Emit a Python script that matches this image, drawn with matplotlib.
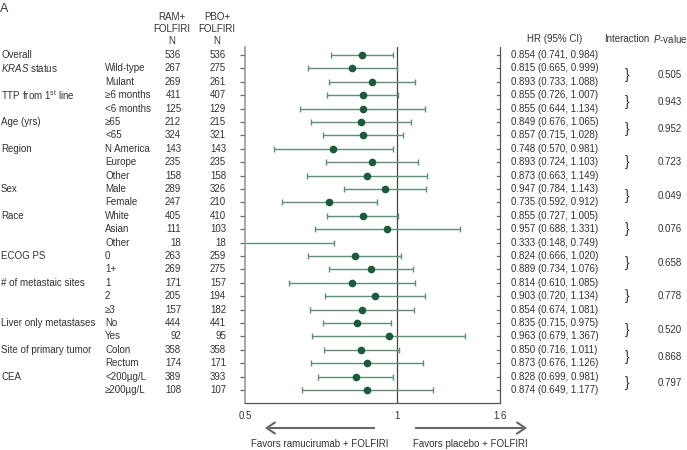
import matplotlib
matplotlib.use("Agg")
import matplotlib.pyplot as plt
import matplotlib.transforms as mtransforms
import numpy as np

plt.rcParams['font.family'] = ['Liberation Sans', 'DejaVu Sans']
plt.rcParams['mathtext.fontset'] = 'custom'
plt.rcParams['mathtext.rm'] = 'Liberation Sans'
plt.rcParams['mathtext.it'] = 'Liberation Sans:italic'

categories = ["Overall", r"$\it{KRAS}$ status", "", r"TTP from 1$^{\rm st}$ line", "",
              "Age (yrs)", "", "Region", "", "", "Sex", "", "Race", "", "",
              "ECOG PS", "", "# of metastaic sites", "", "", "Liver only metastases", "",
              "Site of primary tumor", "", "CEA", ""]
subgroups = ["", "Wild-type", "Mulant", "≥6 months", "<6 months", "≥65", "<65",
             "N America", "Europe", "Other", "Male", "Female", "White", "Asian", "Other",
             "0", "1+", "1", "2", "≥3", "No", "Yes", "Colon", "Rectum", "<200µg/L", "≥200µg/L"]
n_ram = [536, 267, 269, 411, 125, 212, 324, 143, 235, 158, 289, 247, 405, 111, 18,
         263, 269, 171, 205, 157, 444, 92, 358, 174, 389, 108]
n_pbo = [536, 275, 261, 407, 129, 215, 321, 143, 235, 158, 326, 210, 410, 103, 18,
         259, 275, 157, 194, 182, 441, 95, 358, 171, 393, 107]
hr = [0.854, 0.815, 0.893, 0.855, 0.855, 0.849, 0.857, 0.748, 0.893, 0.873, 0.947, 0.735,
      0.855, 0.957, 0.333, 0.824, 0.889, 0.814, 0.903, 0.854, 0.835, 0.963, 0.850, 0.873,
      0.828, 0.874]
lo = [0.741, 0.665, 0.733, 0.726, 0.644, 0.676, 0.715, 0.570, 0.724, 0.663, 0.784, 0.592,
      0.727, 0.688, 0.148, 0.666, 0.734, 0.610, 0.720, 0.674, 0.715, 0.679, 0.716, 0.676,
      0.699, 0.649]
hi = [0.984, 0.999, 1.088, 1.007, 1.134, 1.065, 1.028, 0.981, 1.103, 1.149, 1.143, 0.912,
      1.005, 1.331, 0.749, 1.020, 1.076, 1.085, 1.134, 1.081, 0.975, 1.367, 1.011, 1.126,
      0.981, 1.177]
# interaction p-values: (row position, value)
p_rows = [1.5, 3.5, 5.5, 8, 10.5, 13, 15.5, 18, 20.5, 22.5, 24.5]
p_vals = ["0.505", "0.943", "0.952", "0.723", "0.049", "0.076", "0.658", "0.778",
          "0.520", "0.868", "0.797"]
xticks = [0.5, 1, 1.6]
xticklabels = ["0.5", "1", "1.6"]

W, H = 687, 450
fig = plt.figure(figsize=(W / 100, H / 100), dpi=100)
ax = fig.add_axes([245 / W, 1 - 403 / H, 255 / W, 356 / H])

rows = np.arange(len(hr))
hr_a, lo_a, hi_a = np.array(hr), np.array(lo), np.array(hi)
ax.errorbar(hr_a, rows, xerr=[hr_a - lo_a, hi_a - hr_a], fmt='o', color='#1d5a3a',
            ecolor='#5e8e75', elinewidth=1.0, capsize=2.5, capthick=1.0, markersize=4.5)
ax.axvline(1, color='#444444', lw=0.9, zorder=0)

ax.set_xscale('log')
ax.set_xlim(0.5, 1.6)
ax.set_ylim(25.97, -0.6)
ax.set_xticks(xticks)
ax.set_xticklabels(xticklabels)
ax.minorticks_off()
ax.tick_params(axis='x', length=0, pad=6, labelsize=7, labelcolor='#333333')
ax.set_yticks(rows)
ax.set_yticklabels([])
ax.tick_params(axis='y', length=3.5, width=0.9, color='#666666', direction='out')
ax.spines['top'].set_visible(False)
for s in ['left', 'right', 'bottom']:
    ax.spines[s].set_color('#555555')
    ax.spines[s].set_linewidth(0.9)
ax.spines['left'].set_color('#999999')
ax.spines['left'].set_linewidth(1.2)
for y in rows:
    ax.plot([1.6 / 1.012, 1.6], [y, y], color='#666666', lw=0.9, clip_on=False)

trans = mtransforms.blended_transform_factory(fig.transFigure, ax.transData)
fs = 7
tc = '#333333'
for i in rows:
    if categories[i]:
        fig.text(1 / W, i, categories[i], transform=trans, va='center', ha='left', fontsize=fs, color=tc)
    if subgroups[i]:
        fig.text(105 / W, i, subgroups[i], transform=trans, va='center', ha='left', fontsize=fs, color=tc)
    fig.text(181 / W, i, str(n_ram[i]), transform=trans, va='center', ha='right', fontsize=fs, color=tc)
    fig.text(226 / W, i, str(n_pbo[i]), transform=trans, va='center', ha='right', fontsize=fs, color=tc)
    fig.text(511 / W, i, f"{hr[i]:.3f} ({lo[i]:.3f}, {hi[i]:.3f})", transform=trans,
             va='center', ha='left', fontsize=fs, color=tc)
for r, p in zip(p_rows, p_vals):
    fig.text(627 / W, r, "}", transform=trans, va='center', ha='center', fontsize=10, color=tc)
    fig.text(670 / W, r, p, transform=trans, va='center', ha='center', fontsize=fs, color=tc)

# headers
fig.text(0 / W, 1 - 9 / H, "A", fontsize=9, color=tc, va='center', ha='left')
for x, lines in [(172, ["RAM+", "FOLFIRI", "N"]), (217, ["PBO+", "FOLFIRI", "N"])]:
    for k, t in enumerate(lines):
        fig.text(x / W, 1 - (17 + 12 * k) / H, t, fontsize=fs, color=tc, va='center', ha='center')
fig.text(555 / W, 1 - 39 / H, "HR (95% CI)", fontsize=fs, color=tc, va='center', ha='center')
fig.text(627 / W, 1 - 39 / H, "Interaction", fontsize=fs, color=tc, va='center', ha='center')
fig.text(670 / W, 1 - 39 / H, r"$\it{P}$-value", fontsize=fs, color=tc, va='center', ha='center')

# arrows
fig.patches.append(matplotlib.patches.FancyArrowPatch((377 / W, 1 - 428 / H), (262 / W, 1 - 428 / H),
                   transform=fig.transFigure, arrowstyle='->,head_length=6,head_width=4',
                   color='#666666', lw=1.5))
fig.patches.append(matplotlib.patches.FancyArrowPatch((413 / W, 1 - 428 / H), (530 / W, 1 - 428 / H),
                   transform=fig.transFigure, arrowstyle='->,head_length=6,head_width=4',
                   color='#666666', lw=1.5))
fig.text(320 / W, 1 - 444 / H, "Favors ramucirumab + FOLFIRI", fontsize=fs, color=tc, va='center', ha='center')
fig.text(470 / W, 1 - 444 / H, "Favors placebo + FOLFIRI", fontsize=fs, color=tc, va='center', ha='center')

fig.savefig("out.png", dpi=100)
